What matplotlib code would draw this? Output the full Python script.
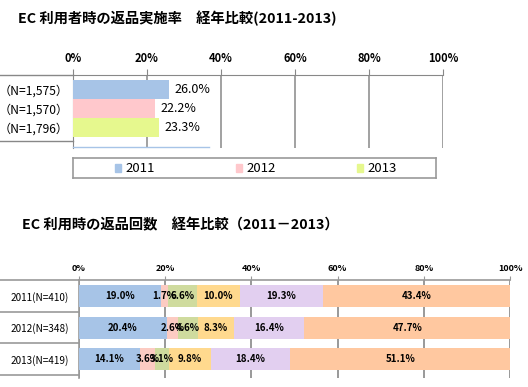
import matplotlib
matplotlib.use("Agg")
import matplotlib.pyplot as plt
from matplotlib.lines import Line2D
from matplotlib.patches import Rectangle

plt.rcParams['font.family'] = ['Noto Sans CJK JP', 'DejaVu Sans']

# top chart data
rate_years = ["2011", "2012", "2013"]
rate_labels = ["（N=1,575）", "（N=1,570）", "（N=1,796）"]
rate_values = [26.0, 22.2, 23.3]
rate_colors = ["#A7C4E7", "#FFC8CC", "#E6F88E"]

# bottom chart data
count_labels = ["2011(N=410)", "2012(N=348)", "2013(N=419)"]
count_values = [
    [19.0, 1.7, 6.6, 10.0, 19.3, 43.4],
    [20.4, 2.6, 4.6, 8.3, 16.4, 47.7],
    [14.1, 3.6, 3.1, 9.8, 18.4, 51.1],
]
count_colors = ["#A7C4E7", "#FCCBC2", "#CFDB9E", "#FFD98E", "#E2CFF0", "#FFC8A0"]

ticks = [0, 20, 40, 60, 80, 100]
tick_labels = ["0%", "20%", "40%", "60%", "80%", "100%"]

W, H = 528, 387
fig = plt.figure(figsize=(W / 100, H / 100), dpi=100)


def px_axes(x0, y0, x1, y1):
    # pixel box (top-left origin) -> figure axes
    return fig.add_axes([x0 / W, 1 - y1 / H, (x1 - x0) / W, (y1 - y0) / H])


def fig_line(x0, y0, x1, y1, **kw):
    fig.add_artist(Line2D([x0 / W, x1 / W], [1 - y0 / H, 1 - y1 / H],
                          transform=fig.transFigure, **kw))


# titles
fig.text(18 / W, 1 - 18 / H, "EC 利用者時の返品実施率　経年比較(2011-2013)",
         fontsize=10.3, fontweight='bold', va='center', ha='left')
fig.text(22 / W, 1 - 225 / H, "EC 利用時の返品回数　経年比較（2011－2013）",
         fontsize=10.3, fontweight='bold', va='center', ha='left')

# ---- top chart ----
ax1 = px_axes(73, 75, 443, 148)
ypos = list(range(len(rate_values)))
ax1.barh(ypos, rate_values, height=1.0, color=rate_colors, zorder=3)
for y, v in zip(ypos, rate_values):
    ax1.text(v + 1.5, y, f"{v:.1f}%", va='center', ha='left', fontsize=9)
ax1.set_xlim(0, 100)
ax1.set_ylim(3.08, -0.763)
ax1.set_yticks(ypos)
ax1.set_yticklabels(rate_labels, fontsize=8.7)
ax1.tick_params(axis='y', length=0, pad=3)
ax1.xaxis.tick_top()
ax1.set_xticks(ticks)
ax1.set_xticklabels(tick_labels, fontsize=8, fontweight='bold')
ax1.tick_params(axis='x', length=4, color="#888888", pad=3)
ax1.grid(axis='x', color="#888888", linewidth=1.1, zorder=0)
for s in ['right', 'bottom']:
    ax1.spines[s].set_visible(False)
ax1.spines['top'].set_color("#888888")
ax1.spines['left'].set_color("#888888")
fig_line(0, 75, 73, 75, color="#888888", linewidth=1)
fig_line(0, 141, 73, 141, color="#888888", linewidth=1)
fig_line(73, 147, 209, 147, color="#A7C4E7", linewidth=1)

# legend box
lax = px_axes(73, 158, 436, 178)
lax.set_xlim(0, 3)
lax.set_ylim(0, 1)
lax.set_xticks([])
lax.set_yticks([])
for s in lax.spines.values():
    s.set_color("#999999")
    s.set_linewidth(1.2)
for i, (yr, c) in enumerate(zip(rate_years, rate_colors)):
    lax.add_patch(Rectangle((i + 0.35, 0.3), 0.045, 0.42, color=c))
    lax.text(i + 0.43, 0.5, yr, va='center', ha='left', fontsize=9.5)

# ---- bottom chart ----
ax2 = px_axes(79, 280, 510, 378)
ypos2 = list(range(len(count_values)))
for y, row in zip(ypos2, count_values):
    left = 0
    for v, c in zip(row, count_colors):
        ax2.barh(y, v, left=left, height=0.7, color=c, zorder=3)
        ax2.text(left + v / 2, y, f"{v:.1f}%", va='center', ha='center',
                 fontsize=7, fontweight='bold', zorder=4)
        left += v
ax2.set_xlim(0, 100)
ax2.set_ylim(2.6, -0.51)
ax2.set_yticks(ypos2)
ax2.set_yticklabels(count_labels, fontsize=7.2)
ax2.tick_params(axis='y', length=0, pad=7)
ax2.xaxis.tick_top()
ax2.set_xticks(ticks)
ax2.set_xticklabels(tick_labels, fontsize=6.5, fontweight='bold')
ax2.tick_params(axis='x', length=3, color="#999999", pad=2)
ax2.grid(axis='x', color="#999999", linewidth=1.4, zorder=0)
for s in ['right', 'bottom']:
    ax2.spines[s].set_visible(False)
ax2.spines['top'].set_color("#999999")
ax2.spines['left'].set_color("#999999")
ax2.spines['top'].set_linewidth(1.2)
ax2.spines['left'].set_linewidth(1.2)
for yb in [-0.5, 0.5, 1.5, 2.5]:
    ax2.plot([-79 / 431, 0], [yb, yb], color="#999999", linewidth=1.2,
             transform=ax2.get_yaxis_transform(), clip_on=False)

fig.savefig("out.png", dpi=100)
